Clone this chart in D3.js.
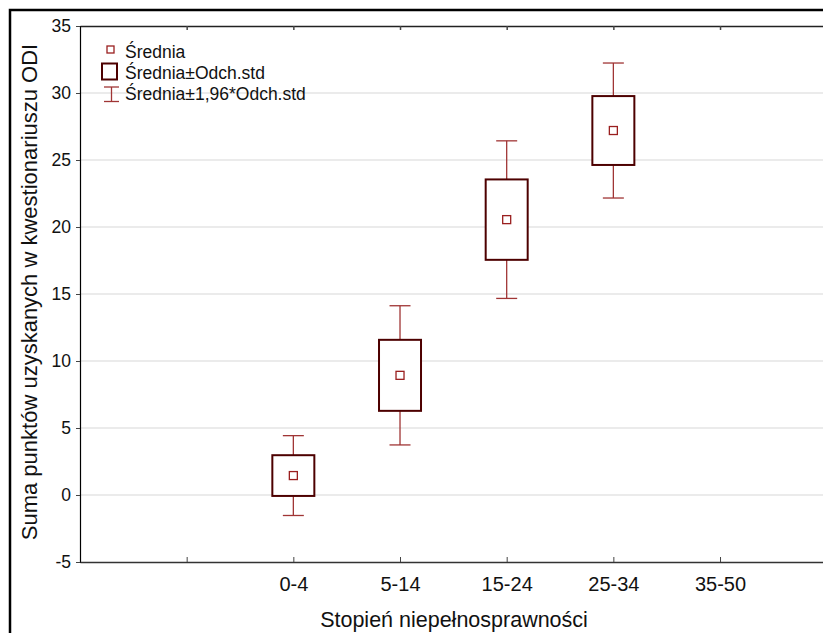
<!DOCTYPE html>
<html>
<head>
<meta charset="utf-8">
<script src="https://cdn.jsdelivr.net/npm/d3@7"></script>
<style>
  body { margin: 0; background: #fff; }
  svg { font-family: "Liberation Sans", Arial, sans-serif; display: block; }
</style>
</head>
<body>
<svg id="chart" width="823" height="633"></svg>
<script>
// categories on the x axis (first slot is empty in the original)
const categories = ["", "0-4", "5-14", "15-24", "25-34", "35-50"];
// groups that have data
const groups = ["0-4", "5-14", "15-24", "25-34"];
const means = [1.45, 8.93, 20.55, 27.2];
const sds = [1.52, 2.65, 3.0, 2.57];
const yTicks = [-5, 0, 5, 10, 15, 20, 25, 30, 35];

const data = groups.map((g, i) => ({ g, mean: means[i], sd: sds[i] }));

const svg = d3.select("#chart");

const plotLeft = 80, plotTop = 26, plotBottom = 562, plotRight = 826.7;

const x = d3.scalePoint().domain(categories).range([plotLeft, plotRight]).padding(1);
const y = d3.scaleLinear().domain([-5, 35]).range([plotBottom, plotTop]);

const boxCol = "#4d0000";
const whiskCol = "#a03535";
const meanCol = "#9a1f1f";

// outer frame
svg.append("rect")
  .attr("x", 10).attr("y", 10)
  .attr("width", 1000).attr("height", 1000)
  .attr("fill", "none").attr("stroke", "#000").attr("stroke-width", 2.5);

// grid lines
svg.append("g")
  .selectAll("line")
  .data(yTicks.filter(d => d > -5 && d < 35))
  .join("line")
  .attr("x1", plotLeft).attr("x2", plotRight)
  .attr("y1", d => y(d)).attr("y2", d => y(d))
  .attr("stroke", "#e4e4e4").attr("stroke-width", 1.5);

// y axis
const yAxis = svg.append("g")
  .attr("transform", `translate(${plotLeft},0)`)
  .call(d3.axisLeft(y).tickValues(yTicks).tickFormat(d => String(d)).tickSize(4).tickPadding(5));
yAxis.select(".domain").attr("stroke", "#000").attr("stroke-width", 1.2);
yAxis.selectAll(".tick line").attr("stroke", "#444");
yAxis.selectAll("text").attr("font-size", 17.5).attr("fill", "#111");

// bottom axis (ticks inside)
const xAxis = svg.append("g")
  .attr("transform", `translate(0,${plotBottom})`)
  .call(d3.axisBottom(x).tickSize(-5).tickSizeOuter(0).tickPadding(0));
xAxis.select(".domain").attr("stroke", "#333").attr("stroke-width", 1.5);
xAxis.selectAll(".tick line").attr("stroke", "#444");
xAxis.selectAll("text").attr("font-size", 20).attr("fill", "#111")
  .attr("dy", null).attr("y", 28.7);

// top axis (ticks inside, no labels)
const xTop = svg.append("g")
  .attr("transform", `translate(0,${plotTop})`)
  .call(d3.axisTop(x).tickSize(-4).tickSizeOuter(0).tickFormat(""));
xTop.select(".domain").attr("stroke", "#222").attr("stroke-width", 1.5);
xTop.selectAll(".tick line").attr("stroke", "#444").attr("stroke-width", 1.5);

// axis titles
svg.append("text")
  .attr("x", 454).attr("y", 627)
  .attr("text-anchor", "middle").attr("font-size", 21.5).attr("fill", "#111")
  .text("Stopień niepełnosprawności");

svg.append("text")
  .attr("transform", "translate(37,292) rotate(-90)")
  .attr("text-anchor", "middle").attr("font-size", 22).attr("fill", "#111")
  .text("Suma punktów uzyskanych w kwestionariuszu ODI");

const boxW = 42, capW = 21, mSize = 8;

const grp = svg.append("g").selectAll("g")
  .data(data)
  .join("g");

// whiskers
grp.append("line")
  .attr("x1", d => x(d.g)).attr("x2", d => x(d.g))
  .attr("y1", d => y(d.mean - 1.96 * d.sd)).attr("y2", d => y(d.mean + 1.96 * d.sd))
  .attr("stroke", whiskCol).attr("stroke-width", 1.3);
grp.selectAll(".cap")
  .data(d => [d.mean - 1.96 * d.sd, d.mean + 1.96 * d.sd].map(v => ({ g: d.g, v })))
  .join("line")
  .attr("class", "cap")
  .attr("x1", d => x(d.g) - capW / 2).attr("x2", d => x(d.g) + capW / 2)
  .attr("y1", d => y(d.v)).attr("y2", d => y(d.v))
  .attr("stroke", whiskCol).attr("stroke-width", 1.3);

// boxes
grp.append("rect")
  .attr("x", d => x(d.g) - boxW / 2)
  .attr("y", d => y(d.mean + d.sd))
  .attr("width", boxW)
  .attr("height", d => y(d.mean - d.sd) - y(d.mean + d.sd))
  .attr("fill", "#fff").attr("stroke", boxCol).attr("stroke-width", 2);

// means
grp.append("rect")
  .attr("x", d => x(d.g) - mSize / 2)
  .attr("y", d => y(d.mean) - mSize / 2)
  .attr("width", mSize).attr("height", mSize)
  .attr("fill", "#fff").attr("stroke", meanCol).attr("stroke-width", 1.3);

// legend
const legend = svg.append("g");
legend.append("rect")
  .attr("x", 107).attr("y", 46).attr("width", 7).attr("height", 7)
  .attr("fill", "#fff").attr("stroke", meanCol).attr("stroke-width", 1.3);
legend.append("rect")
  .attr("x", 102).attr("y", 63.5).attr("width", 15).attr("height", 16)
  .attr("fill", "#fff").attr("stroke", boxCol).attr("stroke-width", 2);
legend.append("line")
  .attr("x1", 111.5).attr("x2", 111.5).attr("y1", 87).attr("y2", 101.5)
  .attr("stroke", whiskCol).attr("stroke-width", 1.3);
[87, 101.5].forEach(v => legend.append("line")
  .attr("x1", 104).attr("x2", 119).attr("y1", v).attr("y2", v)
  .attr("stroke", whiskCol).attr("stroke-width", 1.3));

const legendLabels = ["Średnia", "Średnia±Odch.std", "Średnia±1,96*Odch.std"];
legend.selectAll("text")
  .data(legendLabels)
  .join("text")
  .attr("x", 125).attr("y", (d, i) => 57.5 + i * 21)
  .attr("font-size", 17.5).attr("fill", "#111")
  .text(d => d);
</script>
</body>
</html>
